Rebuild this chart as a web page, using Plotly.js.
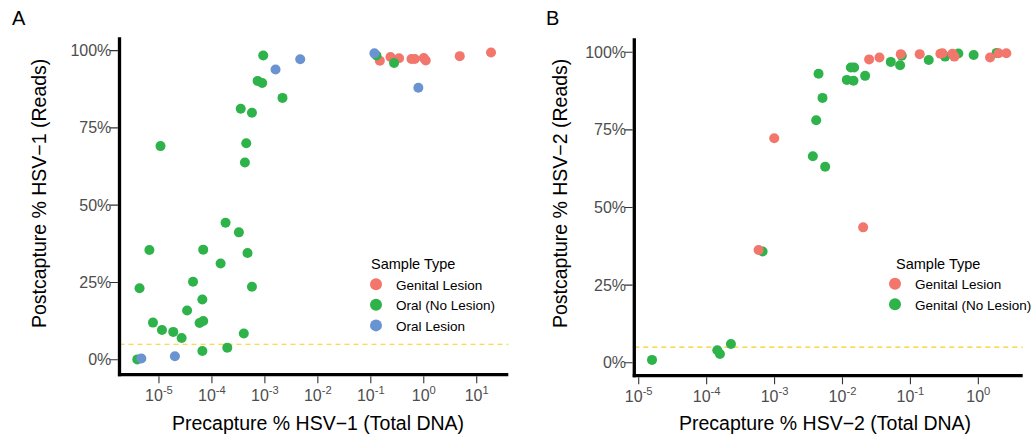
<!DOCTYPE html>
<html>
<head>
<meta charset="utf-8">
<script src="https://cdn.plot.ly/plotly-3.0.1.min.js"></script>
<style>html,body{margin:0;padding:0;background:#fff;overflow:hidden;}#chart{width:1034px;height:437px;overflow:hidden;}</style>
</head>
<body>
<div id="chart"></div>
<script>
// ---- Panel A (HSV-1) ----
const aGenitalX = [0.148, 0.235, 0.342, 0.586, 0.676, 1.0, 1.09, 4.78, 18.6];
const aGenitalY = [96.7, 97.9, 97.5, 97.3, 97.3, 97.6, 96.8, 98.2, 99.4];
const aOralX = [9.3e-4, 7.3e-4, 8.9e-4, 2.15e-3, 3.5e-4, 5.7e-4, 1.07e-5, 4.45e-4, 4.2e-4, 1.81e-4,
  3.23e-4, 6.6e-6, 6.85e-5, 4.7e-4, 1.46e-4, 4.4e-5, 4.3e-6, 5.7e-4, 6.6e-5, 3.4e-5,
  7.7e-6, 5.85e-5, 6.85e-5, 1.14e-5, 1.86e-5, 2.68e-5, 4.0e-4, 6.6e-5, 1.95e-4, 3.9e-6,
  0.128, 0.275];
const aOralY = [98.4, 90.2, 89.5, 84.7, 81.2, 79.9, 69.1, 70.0, 63.8, 44.3,
  41.2, 35.5, 35.6, 34.5, 31.1, 25.2, 23.1, 23.6, 19.5, 15.9,
  12.0, 11.9, 12.5, 9.6, 9.0, 7.0, 8.5, 2.8, 3.9, 0.1,
  98.4, 96.0];
const aLesionX = [0.117, 1.59e-3, 4.65e-3, 0.79, 4.65e-6, 2.0e-5];
const aLesionY = [99.1, 93.9, 97.2, 88.0, 0.4, 1.1];

// ---- Panel B (HSV-2) ----
const bGenitalX = [5.82e-4, 9.89e-4, 0.02014, 0.02466, 0.035, 0.0721, 0.137, 0.276, 0.296, 0.415, 0.444, 1.486, 1.99, 2.58];
const bGenitalY = [36.3, 72.3, 43.6, 97.7, 98.3, 99.4, 99.4, 99.5, 99.7, 99.5, 98.6, 98.3, 99.7, 99.7];
const bNoLesionX = [1.57e-5, 1.435e-4, 1.57e-4, 2.28e-4, 6.67e-4, 3.66e-3, 5.56e-3, 4.1e-3, 5.08e-3, 4.44e-3,
  0.01159, 0.01452, 0.01327, 0.01486, 0.02153, 0.0514, 0.0705, 0.0746, 0.186, 0.324, 0.508, 0.853, 1.86];
const bNoLesionY = [0.9, 4.0, 2.8, 6.0, 35.8, 66.5, 63.1, 78.1, 85.3, 93.1,
  91.1, 90.8, 95.1, 95.1, 92.4, 96.9, 95.8, 98.9, 97.5, 98.6, 99.6, 99.1, 99.8];

// ticks
const yTickVals = [0, 25, 50, 75, 100];
const yTickText = ['0%', '25%', '50%', '75%', '100%'];
const aXTickVals = [1e-5, 1e-4, 1e-3, 1e-2, 1e-1, 1, 10];
const aXTickText = ['10<sup>-5</sup>', '10<sup>-4</sup>', '10<sup>-3</sup>', '10<sup>-2</sup>', '10<sup>-1</sup>', '10<sup>0</sup>', '10<sup>1</sup>'];
const bXTickVals = [1e-5, 1e-4, 1e-3, 1e-2, 1e-1, 1];
const bXTickText = ['10<sup>-5</sup>', '10<sup>-4</sup>', '10<sup>-3</sup>', '10<sup>-2</sup>', '10<sup>-1</sup>', '10<sup>0</sup>'];
const threshold = 5;
const legendTitle = 'Sample Type';
const namesA = ['Genital Lesion', 'Oral (No Lesion)', 'Oral Lesion'];
const namesB = ['Genital Lesion', 'Genital (No Lesion)'];

const RED = '#F2766C', GREEN = '#2DB34A', BLUE = '#6A93D2';
const FONT = 'Liberation Sans, Arial, Helvetica, sans-serif';
const mk = c => ({color: c, size: 10, line: {width: 0}});

const traces = [
  {x: aGenitalX, y: aGenitalY, name: namesA[0], type: 'scatter', mode: 'markers', marker: mk(RED), xaxis: 'x', yaxis: 'y', legend: 'legend', legendrank: 1},
  {x: aOralX, y: aOralY, name: namesA[1], type: 'scatter', mode: 'markers', marker: mk(GREEN), xaxis: 'x', yaxis: 'y', legend: 'legend', legendrank: 2},
  {x: aLesionX, y: aLesionY, name: namesA[2], type: 'scatter', mode: 'markers', marker: mk(BLUE), xaxis: 'x', yaxis: 'y', legend: 'legend', legendrank: 3},
  {x: bNoLesionX, y: bNoLesionY, name: namesB[1], type: 'scatter', mode: 'markers', marker: mk(GREEN), xaxis: 'x2', yaxis: 'y2', legend: 'legend2', legendrank: 2},
  {x: bGenitalX, y: bGenitalY, name: namesB[0], type: 'scatter', mode: 'markers', marker: mk(RED), xaxis: 'x2', yaxis: 'y2', legend: 'legend2', legendrank: 1}
];

const W = 1034, H = 437;
const px = v => v / W, py = v => (H - v) / H;
const INVIS = 'rgba(0,0,0,0)';

function xAxis(dom, rng, anchor, tv, tt) {
  return {
    type: 'log', domain: dom, range: rng, anchor: anchor, automargin: false,
    tickmode: 'array', tickvals: tv, ticktext: tt,
    showgrid: false, zeroline: false, showline: false,
    ticks: 'outside', ticklen: 6, tickwidth: 1, tickcolor: INVIS,
    tickfont: {family: FONT, size: 16, color: '#4D4D4D'}
  };
}
function yAxis(dom, rng, anchor) {
  return {
    type: 'linear', domain: dom, range: rng, anchor: anchor, automargin: false,
    tickmode: 'array', tickvals: yTickVals, ticktext: yTickText,
    showgrid: false, zeroline: false, showline: false,
    ticks: 'outside', ticklen: 4, tickwidth: 1, tickcolor: INVIS,
    tickfont: {family: FONT, size: 16, color: '#4D4D4D'}
  };
}
function leg(x, y) {
  return {
    x: x, y: y, xanchor: 'left', yanchor: 'top',
    font: {family: FONT, size: 13.5, color: '#000'}, bgcolor: 'rgba(0,0,0,0)',
    tracegroupgap: 0, itemsizing: 'constant'
  };
}

// axis frame (lines + tick marks) drawn as shapes tied to axes
function frameShapes(xa, ya, xTicks) {
  const s = [];
  const axisLine = {color: '#000', width: 3.3};
  const tickLine = {color: '#333', width: 1.1};
  s.push({type: 'line', xref: xa + ' domain', yref: ya + ' domain', x0: -0.004, x1: 1, y0: 0, y1: 0, line: axisLine});
  s.push({type: 'line', xref: xa + ' domain', yref: ya + ' domain', x0: 0, x1: 0, y0: -0.0045, y1: 1, line: axisLine});
  xTicks.forEach(v => s.push({type: 'line', xref: xa, yref: ya + ' domain', ysizemode: 'pixel', yanchor: 0,
    x0: v, x1: v, y0: -1.6, y1: -8.6, line: tickLine}));
  yTickVals.forEach(v => s.push({type: 'line', xref: xa + ' domain', yref: ya, xsizemode: 'pixel', xanchor: 0,
    x0: -1.6, x1: -9.6, y0: v, y1: v, line: tickLine}));
  s.push({type: 'line', xref: xa + ' domain', yref: ya, x0: 0, x1: 1, y0: threshold, y1: threshold,
    line: {color: '#F5CF1A', width: 1.2, dash: '5px,4px'}, layer: 'below'});
  return s;
}

const layout = {
  width: W, height: H, paper_bgcolor: '#fff', plot_bgcolor: '#fff',
  margin: {l: 0, r: 0, t: 0, b: 0, pad: 0, autoexpand: false}, showlegend: true,
  font: {family: FONT},
  xaxis: xAxis([px(119.5), px(508.3)], [-5.745, 1.596], 'y', aXTickVals, aXTickText),
  yaxis: yAxis([py(374.7), py(37.3)], [-4.85, 104.3], 'x'),
  xaxis2: xAxis([px(634.3), px(1022.7)], [-5.065, 0.653], 'y2', bXTickVals, bXTickText),
  yaxis2: yAxis([py(375.7), py(38.3)], [-4.19, 104.5], 'x2'),
  legend: leg(px(356), py(269)),
  legend2: leg(px(875), py(268.5)),
  shapes: frameShapes('x', 'y', aXTickVals).concat(frameShapes('x2', 'y2', bXTickVals)),
  annotations: [
    {text: 'A', xref: 'paper', yref: 'paper', x: px(19), y: py(18), xanchor: 'center', yanchor: 'middle', showarrow: false, font: {family: FONT, size: 20, color: '#000'}},
    {text: 'B', xref: 'paper', yref: 'paper', x: px(552), y: py(18), xanchor: 'center', yanchor: 'middle', showarrow: false, font: {family: FONT, size: 20, color: '#000'}},
    {text: legendTitle, xref: 'paper', yref: 'paper', x: px(369), y: py(264), xanchor: 'left', yanchor: 'middle', showarrow: false, font: {family: FONT, size: 14.5, color: '#000'}},
    {text: legendTitle, xref: 'paper', yref: 'paper', x: px(893.5), y: py(264), xanchor: 'left', yanchor: 'middle', showarrow: false, font: {family: FONT, size: 14.5, color: '#000'}},
    {text: 'Postcapture % HSV\u22121 (Reads)', xref: 'paper', yref: 'paper', x: px(39), y: py(194), textangle: -90, xanchor: 'center', yanchor: 'middle', showarrow: false, font: {family: FONT, size: 19.5, color: '#000'}},
    {text: 'Postcapture % HSV\u22122 (Reads)', xref: 'paper', yref: 'paper', x: px(560), y: py(194), textangle: -90, xanchor: 'center', yanchor: 'middle', showarrow: false, font: {family: FONT, size: 19.5, color: '#000'}},
    {text: 'Precapture % HSV\u22121 (Total DNA)', xref: 'paper', yref: 'paper', x: px(318), y: py(423), xanchor: 'center', yanchor: 'middle', showarrow: false, font: {family: FONT, size: 19.5, color: '#000'}},
    {text: 'Precapture % HSV\u22122 (Total DNA)', xref: 'paper', yref: 'paper', x: px(825), y: py(423), xanchor: 'center', yanchor: 'middle', showarrow: false, font: {family: FONT, size: 19.5, color: '#000'}}
  ]
};

Plotly.newPlot('chart', traces, layout, {displayModeBar: false});
</script>
</body>
</html>
